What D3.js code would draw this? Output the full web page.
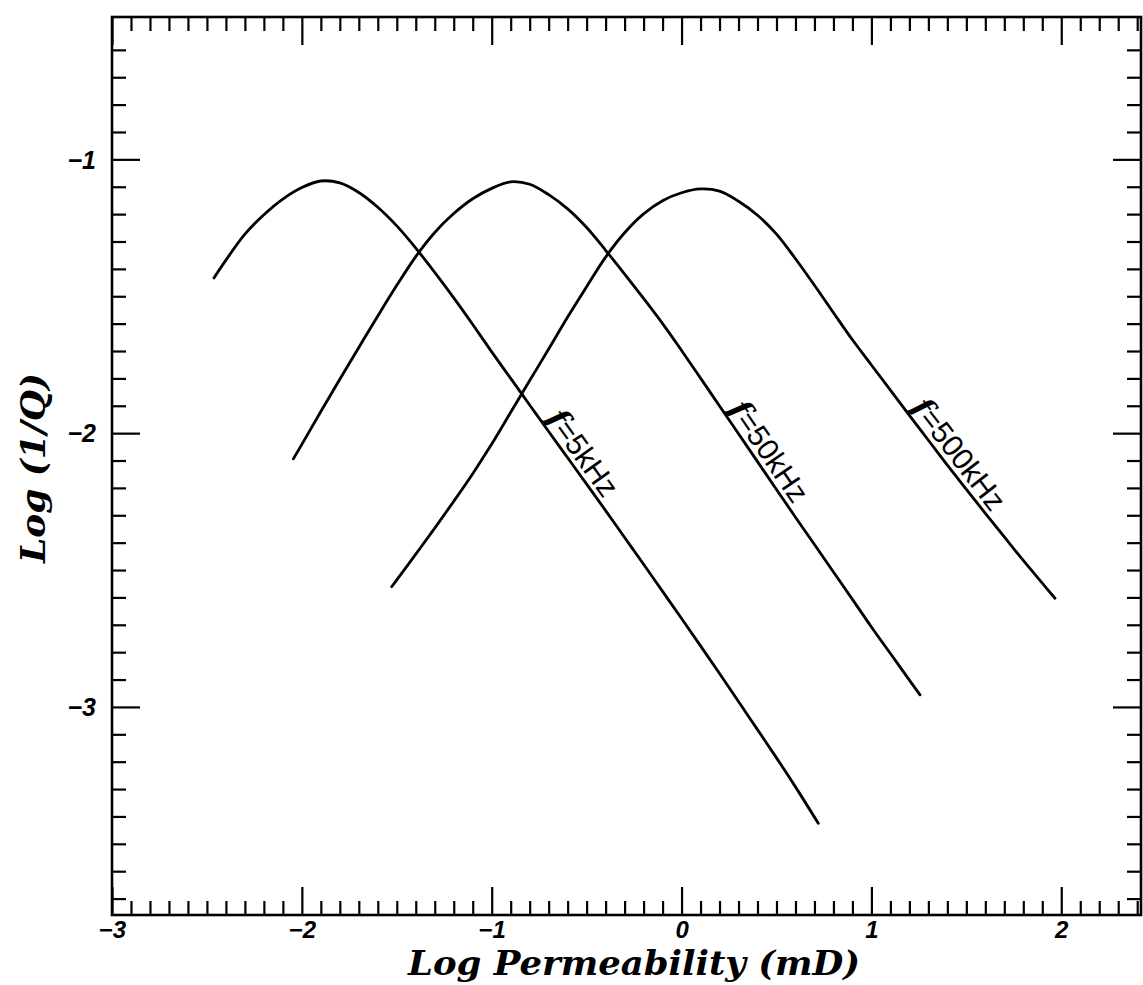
<!DOCTYPE html>
<html>
<head>
<meta charset="utf-8">
<script src="https://cdn.jsdelivr.net/npm/d3@7"></script>
<style>
  html, body { margin: 0; padding: 0; background: #fff; }
  svg { display: block; }
</style>
</head>
<body>
<svg id="chart" width="1143" height="985"></svg>
<script>
// Attenuation curves: Log(1/Q) versus Log permeability for three frequencies
const freqLabels = ["5kHz", "50kHz", "500kHz"];

const logPerm5k = [-2.463, -2.4, -2.3, -2.2, -2.1, -2.0, -1.9, -1.8, -1.7, -1.6,
  -1.5, -1.4, -1.3, -1.2, -1.1, -1.0, -0.9, -0.8, -0.7, -0.6,
  -0.5, -0.4, -0.3, -0.2, -0.1, 0.0, 0.1, 0.2, 0.3, 0.4,
  0.5, 0.6, 0.72];
const logInvQ5k = [-1.433, -1.368, -1.273, -1.202, -1.145, -1.103, -1.079, -1.086, -1.121, -1.175,
  -1.243, -1.324, -1.413, -1.506, -1.603, -1.703, -1.800, -1.897, -1.994, -2.090,
  -2.186, -2.283, -2.381, -2.479, -2.578, -2.677, -2.777, -2.878, -2.980, -3.083,
  -3.186, -3.292, -3.425];

const logPerm50k = [-2.045, -2.0, -1.9, -1.8, -1.7, -1.6, -1.5, -1.4, -1.3, -1.2,
  -1.1, -1.0, -0.9, -0.8, -0.7, -0.6, -0.5, -0.4, -0.3, -0.2,
  -0.1, 0.0, 0.1, 0.2, 0.3, 0.4, 0.5, 0.6, 0.7, 0.8,
  0.9, 1.0, 1.1, 1.2, 1.256];
const logInvQ50k = [-2.094, -2.041, -1.921, -1.803, -1.687, -1.572, -1.460, -1.355, -1.267, -1.198,
  -1.144, -1.106, -1.082, -1.091, -1.129, -1.181, -1.249, -1.332, -1.419, -1.508,
  -1.600, -1.698, -1.799, -1.901, -2.002, -2.104, -2.206, -2.307, -2.407, -2.507,
  -2.607, -2.708, -2.805, -2.902, -2.956];

const logPerm500k = [-1.527, -1.5, -1.4, -1.3, -1.2, -1.1, -1.0, -0.9, -0.8, -0.7,
  -0.6, -0.5, -0.4, -0.3, -0.2, -0.1, 0.0, 0.1, 0.2, 0.3,
  0.4, 0.5, 0.6, 0.7, 0.8, 0.9, 1.0, 1.1, 1.2, 1.3,
  1.4, 1.5, 1.6, 1.7, 1.8, 1.9, 1.967];
const logInvQ500k = [-2.561, -2.536, -2.442, -2.347, -2.249, -2.148, -2.040, -1.924, -1.808, -1.693,
  -1.576, -1.465, -1.357, -1.268, -1.199, -1.151, -1.122, -1.108, -1.116, -1.153,
  -1.204, -1.273, -1.363, -1.460, -1.560, -1.659, -1.751, -1.843, -1.935, -2.026,
  -2.117, -2.205, -2.293, -2.379, -2.465, -2.548, -2.603];

// where each frequency label starts along its curve (log permeability)
const labelAt = [-0.75, 0.21, 1.17];

const xMajorTicks = [-3, -2, -1, 0, 1, 2];
const xTickLabels = ["\u22123", "\u22122", "\u22121", "0", "1", "2"];
const yMajorTicks = [-1, -2, -3];
const yTickLabels = ["\u22121", "\u22122", "\u22123"];

const series = [
  { x: logPerm5k,   y: logInvQ5k },
  { x: logPerm50k,  y: logInvQ50k },
  { x: logPerm500k, y: logInvQ500k }
];

const svg = d3.select("#chart");
const frameL = 112, frameR = 1141, frameT = 17, frameB = 915;

const x = d3.scaleLinear().domain([-3, 2.42]).range([frameL, frameR]);
const y = d3.scaleLinear().domain([-3.76, -0.48]).range([frameB, frameT]);

const minorX = d3.range(-29, 25).map(d => d / 10).filter(d => Math.abs(d - Math.round(d)) > 1e-6);
const minorY = d3.range(-37, -5).map(d => d / 10).filter(d => Math.abs(d - Math.round(d)) > 1e-6);

const MAJ = 28, MIN = 14;
const tickFont = "bold italic 24px 'Liberation Sans', Arial, sans-serif";

function styleAxis(g) {
  g.select(".domain").remove();
  g.selectAll(".tick line").attr("stroke", "#000").attr("stroke-width", 2.2);
}

// bottom
svg.append("g").attr("transform", `translate(0,${frameB})`)
  .call(d3.axisBottom(x).tickValues(minorX).tickSize(-MIN).tickFormat(""))
  .call(styleAxis);
svg.append("g").attr("transform", `translate(0,${frameB})`)
  .call(d3.axisBottom(x).tickValues(xMajorTicks).tickSize(-MAJ).tickPadding(6)
    .tickFormat((d, i) => xTickLabels[i]))
  .call(styleAxis)
  .call(g => g.selectAll("text").style("font", tickFont).attr("fill", "#000").attr("dy", "0.71em"));

// top
svg.append("g").attr("transform", `translate(0,${frameT})`)
  .call(d3.axisTop(x).tickValues(minorX).tickSize(-MIN).tickFormat(""))
  .call(styleAxis);
svg.append("g").attr("transform", `translate(0,${frameT})`)
  .call(d3.axisTop(x).tickValues(xMajorTicks).tickSize(-MAJ).tickFormat(""))
  .call(styleAxis);

// left
svg.append("g").attr("transform", `translate(${frameL},0)`)
  .call(d3.axisLeft(y).tickValues(minorY).tickSize(-MIN).tickFormat(""))
  .call(styleAxis);
svg.append("g").attr("transform", `translate(${frameL},0)`)
  .call(d3.axisLeft(y).tickValues(yMajorTicks).tickSize(-MAJ).tickPadding(16)
    .tickFormat((d, i) => yTickLabels[i]))
  .call(styleAxis)
  .call(g => g.selectAll("text").style("font", "bold italic 25px 'Liberation Sans', Arial, sans-serif")
    .attr("fill", "#000").attr("dy", "0.35em"));

// right
svg.append("g").attr("transform", `translate(${frameR},0)`)
  .call(d3.axisRight(y).tickValues(minorY).tickSize(-MIN).tickFormat(""))
  .call(styleAxis);
svg.append("g").attr("transform", `translate(${frameR},0)`)
  .call(d3.axisRight(y).tickValues(yMajorTicks).tickSize(-MAJ).tickFormat(""))
  .call(styleAxis);

// frame
svg.append("rect")
  .attr("x", frameL).attr("y", frameT)
  .attr("width", frameR - frameL).attr("height", frameB - frameT)
  .attr("fill", "none").attr("stroke", "#000").attr("stroke-width", 2.6);

// curves
const line = d3.line().x(d => x(d[0])).y(d => y(d[1])).curve(d3.curveCatmullRom.alpha(0.5));
series.forEach(s => {
  const pts = s.x.map((v, i) => [v, s.y[i]]);
  svg.append("path")
    .attr("d", line(pts))
    .attr("fill", "none")
    .attr("stroke", "#000")
    .attr("stroke-width", 2.8)
    .attr("stroke-linejoin", "round")
    .attr("stroke-linecap", "round");
});

// frequency labels laid along the descending limbs
function interp(xs, ys, v) {
  for (let i = 0; i < xs.length - 1; i++) {
    if (v >= xs[i] && v <= xs[i + 1]) {
      const t = (v - xs[i]) / (xs[i + 1] - xs[i]);
      return ys[i] + t * (ys[i + 1] - ys[i]);
    }
  }
  return ys[ys.length - 1];
}
series.forEach((s, i) => {
  const v = labelAt[i];
  const px = x(v), py = y(interp(s.x, s.y, v));
  const p2x = x(v + 0.4), p2y = y(interp(s.x, s.y, v + 0.4));
  const ang = Math.atan2(p2y - py, p2x - px) * 180 / Math.PI;
  const t = svg.append("text")
    .attr("transform", `translate(${px},${py}) rotate(${ang})`)
    .attr("x", 4).attr("y", -5)
    .attr("fill", "#000");
  t.append("tspan")
    .style("font", "bold italic 31px 'DejaVu Serif', serif")
    .text("f");
  t.append("tspan")
    .style("font", "30px 'Liberation Sans', Arial, sans-serif")
    .text("=" + freqLabels[i]);
});

// axis titles
const titleFont = "bold italic 34px 'DejaVu Serif', 'Liberation Serif', serif";
svg.append("text")
  .attr("x", 634).attr("y", 975)
  .attr("text-anchor", "middle")
  .attr("textLength", 452)
  .attr("lengthAdjust", "spacingAndGlyphs")
  .style("font", titleFont)
  .text("Log Permeability (mD)");
svg.append("text")
  .attr("transform", "translate(45,468) rotate(-90)")
  .attr("text-anchor", "middle")
  .attr("textLength", 190)
  .attr("lengthAdjust", "spacingAndGlyphs")
  .style("font", titleFont)
  .text("Log (1/Q)");
</script>
</body>
</html>
